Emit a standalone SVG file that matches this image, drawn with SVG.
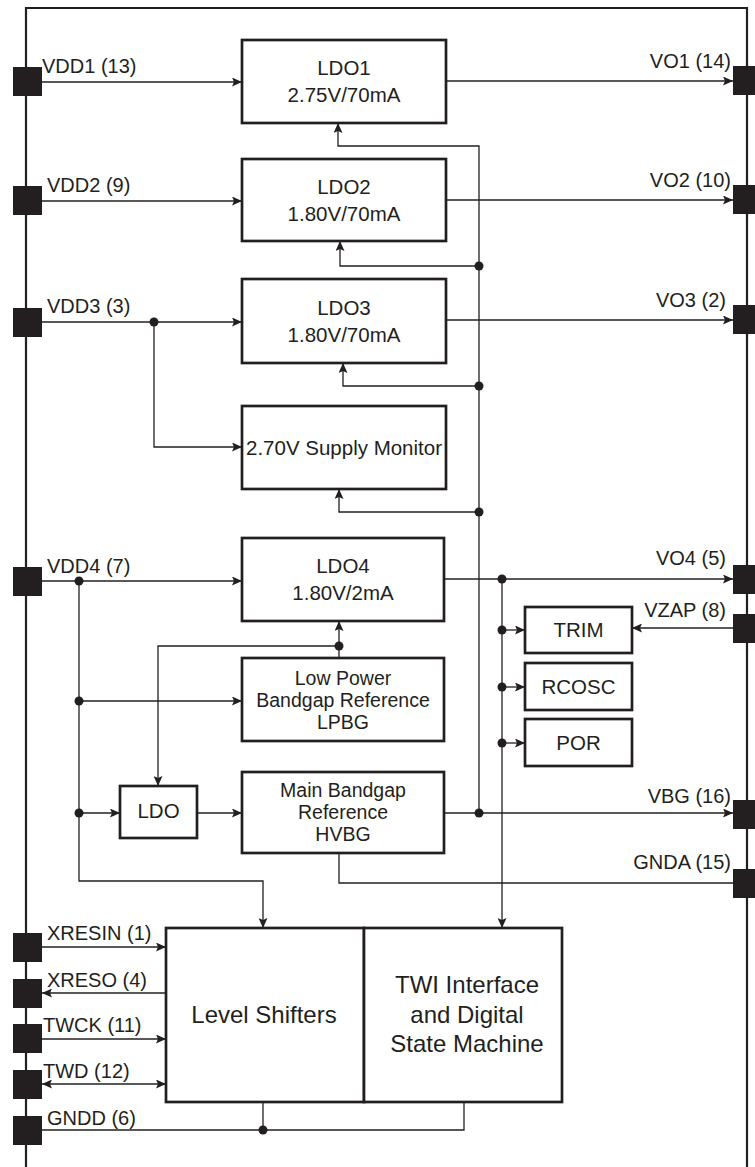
<svg xmlns="http://www.w3.org/2000/svg" width="755" height="1167" viewBox="0 0 755 1167">
<defs>
<marker id="arr" viewBox="0 0 10 9" refX="10" refY="4.5" markerWidth="10" markerHeight="9" orient="auto-start-reverse" markerUnits="userSpaceOnUse">
<path d="M0,0 L10,4.5 L0,9 L2,4.5 z" fill="#231f20"/>
</marker>
<style>
.box{fill:#fff;stroke:#231f20;stroke-width:2.7}
.pin{fill:#231f20}
.c{fill:none;stroke:#231f20;stroke-width:1.3}
.a{marker-end:url(#arr)}
.d{fill:#231f20}
text{font-family:"Liberation Sans",Arial,sans-serif;fill:#231f20}
.t{font-size:20.5px;text-anchor:middle}
.m{font-size:19.5px;text-anchor:middle}
.big{font-size:24px;text-anchor:middle}
.l{font-size:20px}
.r{font-size:20px;text-anchor:end}
</style>
</defs>
<rect width="755" height="1167" fill="#fff"/>
<path d="M26,1167 V8 H747 V1167" fill="none" stroke="#231f20" stroke-width="2.2"/>

<g id="connectors">
<path class="c a" d="M28,82 H242"/>
<path class="c a" d="M27,201 H242"/>
<path class="c a" d="M27,322 H242"/>
<path class="c a" d="M154,322 V447 H242"/>
<circle class="d" cx="154" cy="322" r="4.5"/>
<path class="c a" d="M27,581 H242"/>
<path class="c a" d="M79,581 V881 H263 V928"/>
<circle class="d" cx="79" cy="581" r="4.5"/>
<path class="c a" d="M79,701 H242"/>
<circle class="d" cx="79" cy="701" r="4.5"/>
<path class="c a" d="M79,813 H120"/>
<circle class="d" cx="79" cy="813" r="4.5"/>
<path class="c a" d="M197,813 H242"/>
<path class="c a" d="M339,658 V621"/>
<path class="c a" d="M339,646 H158 V786"/>
<circle class="d" cx="339" cy="646" r="4.5"/>
<path class="c a" d="M446,81 H733"/>
<path class="c a" d="M446,200 H733"/>
<path class="c a" d="M446,320 H733"/>
<path class="c a" d="M444,579 H733"/>
<circle class="d" cx="502" cy="579" r="4.5"/>
<path class="c a" d="M444,813 H733"/>
<circle class="d" cx="479" cy="813" r="4.5"/>
<path class="c a" d="M479,813 V146 H338 V123"/>
<path class="c a" d="M479,266 H340 V241"/>
<circle class="d" cx="479" cy="266" r="4.5"/>
<path class="c a" d="M479,386 H343 V363"/>
<circle class="d" cx="479" cy="386" r="4.5"/>
<path class="c a" d="M479,512 H339 V489"/>
<circle class="d" cx="479" cy="512" r="4.5"/>
<path class="c a" d="M502,579 V928"/>
<path class="c a" d="M502,630 H525"/>
<circle class="d" cx="502" cy="630" r="4.5"/>
<path class="c a" d="M502,687 H525"/>
<circle class="d" cx="502" cy="687" r="4.5"/>
<path class="c a" d="M502,743 H525"/>
<circle class="d" cx="502" cy="743" r="4.5"/>
<path class="c a" d="M740,628 H632"/>
<path class="c" d="M740,883 H339 V853"/>
<path class="c a" d="M28,947 H166"/>
<path class="c a" d="M166,993 H42"/>
<path class="c a" d="M28,1039 H166"/>
<path class="c a" d="M42,1084 H166" style="marker-start:url(#arr)"/>
<path class="c" d="M28,1130 H464 V1102"/>
<path class="c" d="M263,1102 V1130"/>
<circle class="d" cx="263" cy="1130" r="4.5"/>
</g>

<g id="pins">
<rect class="pin" x="13" y="67" width="29" height="29"/>
<rect class="pin" x="13" y="186" width="29" height="29"/>
<rect class="pin" x="13" y="308" width="29" height="29"/>
<rect class="pin" x="13" y="567" width="29" height="29"/>
<rect class="pin" x="13" y="933" width="29" height="29"/>
<rect class="pin" x="13" y="979" width="29" height="29"/>
<rect class="pin" x="13" y="1024" width="29" height="29"/>
<rect class="pin" x="13" y="1070" width="29" height="29"/>
<rect class="pin" x="13" y="1116" width="29" height="29"/>
<rect class="pin" x="733" y="66" width="29" height="29"/>
<rect class="pin" x="733" y="185" width="29" height="29"/>
<rect class="pin" x="733" y="305" width="29" height="29"/>
<rect class="pin" x="733" y="565" width="29" height="29"/>
<rect class="pin" x="733" y="614" width="29" height="29"/>
<rect class="pin" x="733" y="800" width="29" height="29"/>
<rect class="pin" x="733" y="869" width="29" height="29"/>
<text class="l" x="42" y="73">VDD1 (13)</text>
<text class="l" x="47" y="192">VDD2 (9)</text>
<text class="l" x="47" y="313">VDD3 (3)</text>
<text class="l" x="47" y="573">VDD4 (7)</text>
<text class="l" x="47" y="940">XRESIN (1)</text>
<text class="l" x="47" y="987">XRESO (4)</text>
<text class="l" x="43" y="1032">TWCK (11)</text>
<text class="l" x="43" y="1078">TWD (12)</text>
<text class="l" x="47" y="1125">GNDD (6)</text>
<text class="r" x="731" y="68">VO1 (14)</text>
<text class="r" x="731" y="187">VO2 (10)</text>
<text class="r" x="726" y="307">VO3 (2)</text>
<text class="r" x="726" y="565">VO4 (5)</text>
<text class="r" x="726" y="617">VZAP (8)</text>
<text class="r" x="731" y="803">VBG (16)</text>
<text class="r" x="731" y="869">GNDA (15)</text>
</g>

<g id="ldo1"><rect class="box" x="242" y="40" width="204" height="83"/><text class="t" x="344" y="75">LDO1</text><text class="t" x="344" y="102">2.75V/70mA</text></g>
<g id="ldo2"><rect class="box" x="242" y="159" width="204" height="82"/><text class="t" x="344" y="194">LDO2</text><text class="t" x="344" y="221">1.80V/70mA</text></g>
<g id="ldo3"><rect class="box" x="242" y="279" width="204" height="84"/><text class="t" x="344" y="315">LDO3</text><text class="t" x="344" y="342">1.80V/70mA</text></g>
<g id="supmon"><rect class="box" x="242" y="406" width="204" height="83"/><text class="t" x="344" y="455">2.70V Supply Monitor</text></g>
<g id="ldo4"><rect class="box" x="242" y="538" width="202" height="83"/><text class="t" x="343" y="573">LDO4</text><text class="t" x="343" y="600">1.80V/2mA</text></g>
<g id="lpbg"><rect class="box" x="242" y="658" width="202" height="83"/><text class="m" x="343" y="685">Low Power</text><text class="m" x="343" y="707">Bandgap Reference</text><text class="m" x="343" y="729">LPBG</text></g>
<g id="hvbg"><rect class="box" x="242" y="772" width="202" height="81"/><text class="m" x="343" y="797">Main Bandgap</text><text class="m" x="343" y="819">Reference</text><text class="m" x="343" y="841">HVBG</text></g>
<g id="ldo"><rect class="box" x="120" y="786" width="77" height="52"/><text class="t" x="158.5" y="818">LDO</text></g>
<g id="trim"><rect class="box" x="525" y="607" width="107" height="46"/><text class="t" x="578.5" y="637">TRIM</text></g>
<g id="rcosc"><rect class="box" x="525" y="663" width="107" height="47"/><text class="t" x="578.5" y="694">RCOSC</text></g>
<g id="por"><rect class="box" x="525" y="719" width="107" height="47"/><text class="t" x="578.5" y="750">POR</text></g>
<g id="levelshifters"><rect class="box" x="166" y="928" width="198" height="174"/><text class="big" x="264" y="1023">Level Shifters</text></g>
<g id="twi"><rect class="box" x="364" y="928" width="198" height="174"/><text class="big" x="467" y="993">TWI Interface</text><text class="big" x="467" y="1023">and Digital</text><text class="big" x="467" y="1052">State Machine</text></g>
</svg>
